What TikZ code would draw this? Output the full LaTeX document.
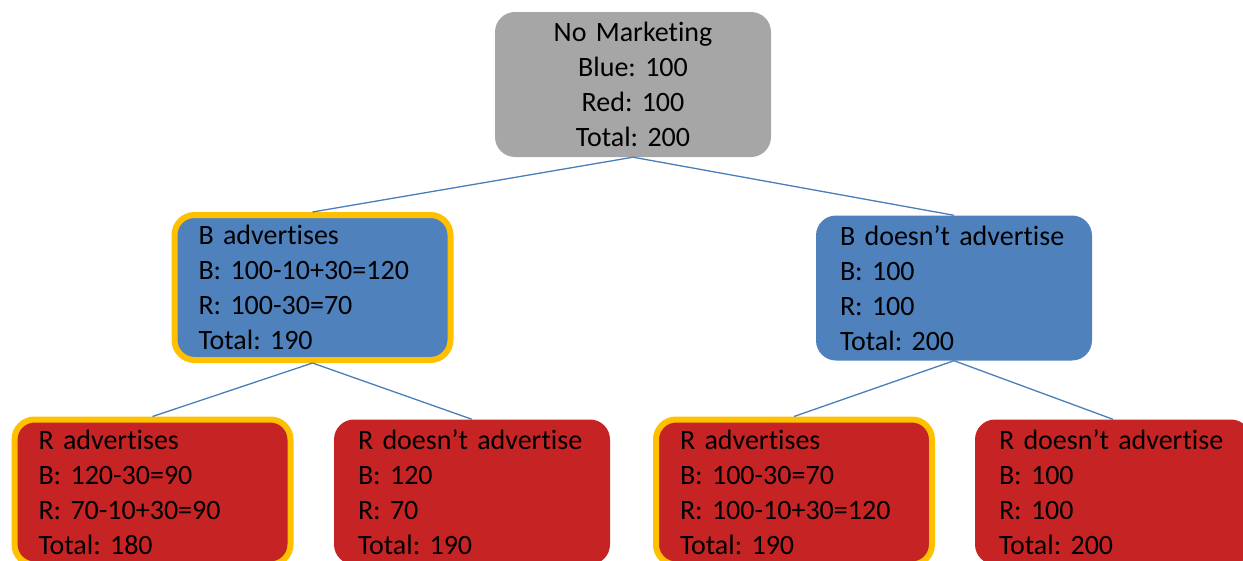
\documentclass[tikz,border=0pt]{standalone}
\usepackage{fontspec}
\setmainfont{Carlito}[Ligatures={TeX,NoCommon}]
\frenchspacing
\definecolor{mktgray}{HTML}{A6A6A6}
\definecolor{mktblue}{HTML}{4F81BD}
\definecolor{mktred}{HTML}{C62424}
\definecolor{mktorange}{HTML}{FFC000}
\definecolor{mktline}{HTML}{4A7EBB}
\tikzset{
	box/.style={rectangle,rounded corners=20pt,minimum width=276pt,minimum height=145pt,
		text width=228pt,inner xsep=24pt,align=left,font=\fontsize{28}{35}\selectfont},
	graybox/.style={box,fill=mktgray,align=center},
	bluebox/.style={box,fill=mktblue},
	redbox/.style={box,fill=mktred},
	chosen/.style={draw=mktorange,line width=6pt},
	branch/.style={draw=mktline,line width=1.3pt},
}
\begin{document}
\begin{tikzpicture}[x=1pt,y=-1pt]
		\useasboundingbox (0,0) rectangle (1243,560);

		% root
		\node[graybox] (root) at (633,84.5) {No Marketing\\Blue: 100\\Red: 100\\Total: 200};

		% first move: B
		\node[bluebox,chosen] (badv) at (312.5,287.5) {B advertises\\B: 100-10+30=120\\R: 100-30=70\\Total: 190};
		\node[bluebox] (bno) at (954,288) {B doesn’t advertise\\B: 100\\R: 100\\Total: 200};

		% second move: R
		\node[redbox,chosen] (badvradv) at (152.5,492) {R advertises\\B: 120-30=90\\R: 70-10+30=90\\Total: 180};
		\node[redbox] (badvrno) at (472,492) {R doesn’t advertise\\B: 120\\R: 70\\Total: 190};
		\node[redbox,chosen] (bnoradv) at (794,492) {R advertises\\B: 100-30=70\\R: 100-10+30=120\\Total: 190};
		\node[redbox] (bnorno) at (1113,492) {R doesn’t advertise\\B: 100\\R: 100\\Total: 200};

		\path[branch] (root.south) -- (badv.north);
		\path[branch] (root.south) -- (bno.north);
		\path[branch] (badv.south) -- (badvradv.north);
		\path[branch] (badv.south) -- (badvrno.north);
		\path[branch] (bno.south) -- (bnoradv.north);
		\path[branch] (bno.south) -- (bnorno.north);
	\end{tikzpicture}
\end{document}
